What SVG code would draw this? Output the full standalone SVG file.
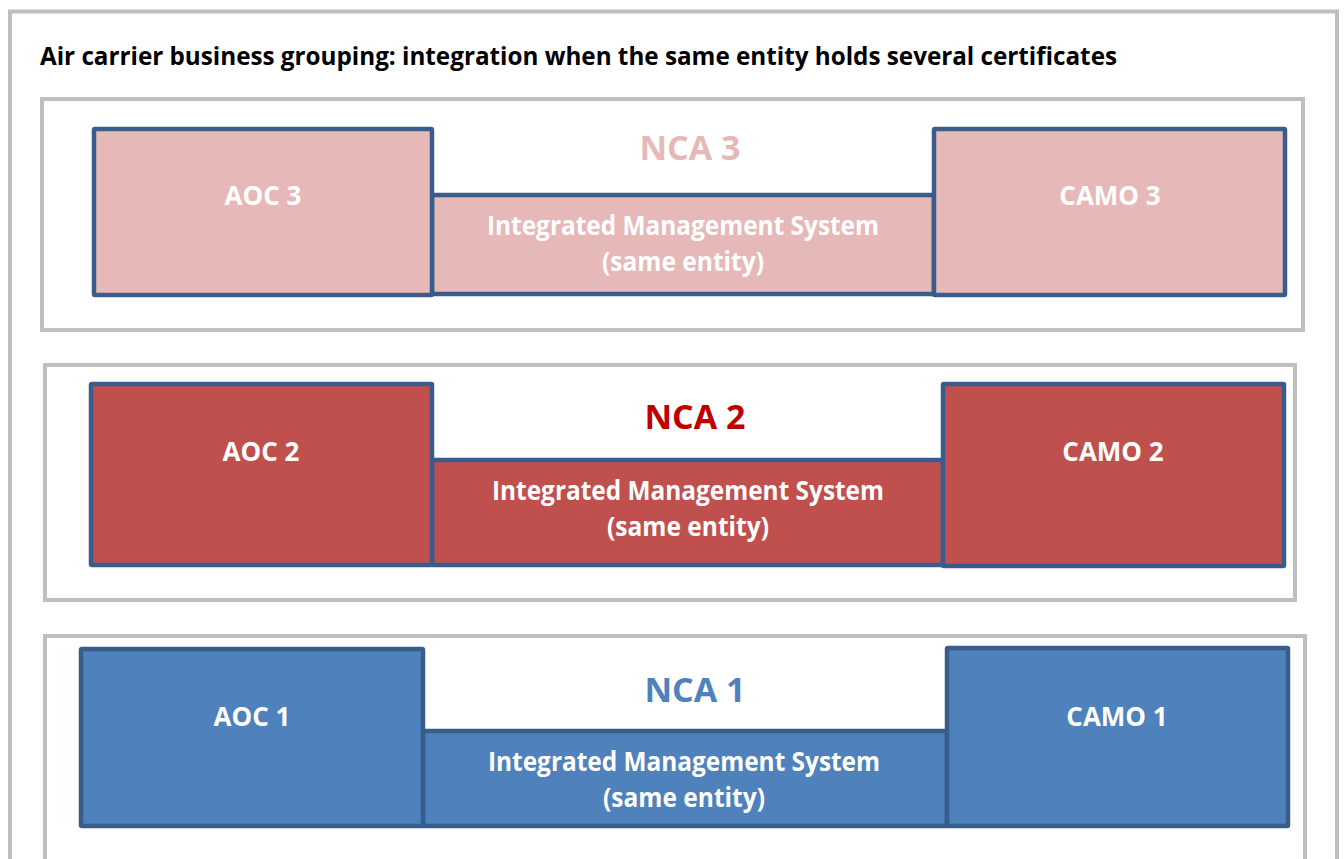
<svg xmlns="http://www.w3.org/2000/svg" width="1344" height="859" viewBox="0 0 1344 859">
<style>
.frame{fill:#ffffff;stroke:#bfbfbf;stroke-width:4}
.box{stroke:#385d8a;stroke-width:4.5}
.pink{fill:#e6b9b8}
.red{fill:#c0504d}
.blue{fill:#4f81bd}
text{font-family:"Open Sans","Liberation Sans",sans-serif;font-weight:bold;text-anchor:middle}
.lbl{fill:#ffffff;font-size:26px}
.nca{font-size:34px}
.title{font-size:25px;fill:#000000;text-anchor:start}
</style>
<rect class="frame" x="10" y="11.5" width="1327" height="880"/>
<text class="title" x="40" y="65" textLength="1077" lengthAdjust="spacingAndGlyphs">Air carrier business grouping: integration when the same entity holds several certificates</text>

<g id="panel-nca3">
<rect class="frame" x="42" y="99" width="1261" height="231"/>
<text class="nca" x="690" y="160" fill="#e6b9b8">NCA 3</text>
</g>
<g id="ims3">
<rect class="box pink" x="432" y="195" width="502" height="99" rx="1"/>
<text class="lbl" x="683" y="235" textLength="392" lengthAdjust="spacingAndGlyphs">Integrated Management System</text>
<text class="lbl" x="683" y="271" textLength="162" lengthAdjust="spacingAndGlyphs">(same entity)</text>
</g>
<g id="aoc3">
<rect class="box pink" x="94" y="129" width="338" height="166" rx="1"/>
<text class="lbl" x="263" y="205">AOC 3</text>
</g>
<g id="camo3">
<rect class="box pink" x="934" y="129" width="351" height="166" rx="1"/>
<text class="lbl" x="1110" y="205">CAMO 3</text>
</g>

<g id="panel-nca2">
<rect class="frame" x="45" y="365" width="1250" height="235"/>
<text class="nca" x="695" y="429" fill="#c00000">NCA 2</text>
</g>
<g id="ims2">
<rect class="box red" x="432" y="460" width="511" height="105" rx="1"/>
<text class="lbl" x="688" y="500" textLength="392" lengthAdjust="spacingAndGlyphs">Integrated Management System</text>
<text class="lbl" x="688" y="536" textLength="162" lengthAdjust="spacingAndGlyphs">(same entity)</text>
</g>
<g id="aoc2">
<rect class="box red" x="91" y="384" width="341" height="181" rx="1"/>
<text class="lbl" x="261" y="461">AOC 2</text>
</g>
<g id="camo2">
<rect class="box red" x="943" y="384" width="341" height="182" rx="1"/>
<text class="lbl" x="1113" y="461">CAMO 2</text>
</g>

<g id="panel-nca1">
<rect class="frame" x="45" y="636" width="1260" height="240"/>
<text class="nca" x="695" y="702" fill="#4f81bd">NCA 1</text>
</g>
<g id="ims1">
<rect class="box blue" x="423" y="731" width="524" height="95" rx="1"/>
<text class="lbl" x="684" y="771" textLength="392" lengthAdjust="spacingAndGlyphs">Integrated Management System</text>
<text class="lbl" x="684" y="807" textLength="162" lengthAdjust="spacingAndGlyphs">(same entity)</text>
</g>
<g id="aoc1">
<rect class="box blue" x="81" y="649" width="342" height="177" rx="1"/>
<text class="lbl" x="252" y="726">AOC 1</text>
</g>
<g id="camo1">
<rect class="box blue" x="947" y="648" width="341" height="178" rx="1"/>
<text class="lbl" x="1117" y="726">CAMO 1</text>
</g>
<g id="connectors"/>
</svg>
